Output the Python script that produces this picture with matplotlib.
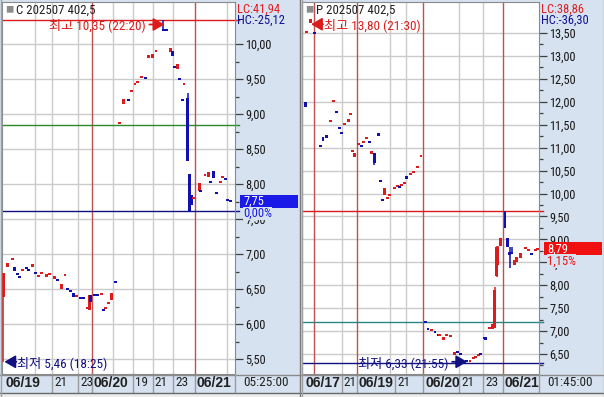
import numpy as np
import matplotlib
matplotlib.use("Agg")
import matplotlib.pyplot as plt
import matplotlib.transforms as mtransforms
from matplotlib.patches import Rectangle
from matplotlib.lines import Line2D
from matplotlib import font_manager
from matplotlib.ticker import FuncFormatter

# ---------------------------------------------------------------- data
# Left panel : call option C 202507 402.5  (t = bar slot on the time axis)
c_title = "C 202507 402,5"
c_t = [0.4, 1.7, 3.0, 3.6, 4.3, 5.0, 5.9, 6.9, 7.7, 8.7, 9.7, 10.4, 11.3, 12.7, 13.6, 14.9, 15.9, 17.1,
       18.0, 18.7, 19.6, 20.3, 21.3, 22.3, 23.3, 24.4, 24.9, 25.4, 26.4, 27.3, 28.4, 29.0, 29.6, 30.4,
       31.3, 32.4,
       33.7, 34.6, 36.1, 37.1, 38.0, 38.7, 39.9, 40.9, 41.9, 42.9, 44.0, 46.1, 47.0, 48.1, 48.7, 49.3,
       50.1, 50.7, 51.6, 52.0, 53.0, 53.6, 54.1, 54.7, 56.4, 56.7, 58.0, 59.0, 59.7, 60.4, 61.4, 62.3,
       63.1, 63.9, 64.4, 65.4]
c_open = [6.39, 6.81, 6.93, 6.81, 6.72, 6.68, 6.76, 6.81, 6.78, 6.81, 6.74, 6.68, 6.72, 6.67, 6.71, 6.64,
          6.63, 6.50, 6.70, 6.51, 6.47, 6.44, 6.39, 6.38, 6.37, 6.23, 6.20, 6.41, 6.42, 6.42, 6.43, 6.20,
          6.22, 6.30, 6.34, 6.60,
          8.86, 9.14, 9.20, 9.32, 9.43, 9.45, 9.52, 9.52, 9.80, 9.80, 9.90, 10.20, 10.20, 9.89, 9.90, 9.68,
          9.64, 9.50, 9.20, 9.43, 9.23, 8.14, 7.84, 7.80, 7.90, 7.90, 8.13, 8.10, 8.04, 8.19, 7.88, 8.01,
          8.09, 8.08, 7.78, 7.76]
c_high = [6.73, 6.87, 6.94, 6.81, 6.72, 6.68, 6.77, 6.81, 6.78, 6.86, 6.74, 6.70, 6.73, 6.71, 6.72, 6.69,
          6.63, 6.57, 6.71, 6.51, 6.47, 6.44, 6.40, 6.38, 6.37, 6.24, 6.41, 6.41, 6.42, 6.42, 6.44, 6.20,
          6.23, 6.31, 6.44, 6.60,
          8.87, 9.21, 9.20, 9.33, 9.44, 9.46, 9.53, 9.52, 9.84, 9.86, 9.91, 10.35, 10.20, 9.94, 9.90, 9.68,
          9.71, 9.50, 9.20, 9.44, 9.30, 8.14, 7.84, 7.81, 8.01, 7.90, 8.14, 8.17, 8.04, 8.19, 7.88, 8.04,
          8.10, 8.08, 7.78, 7.76]
c_low = [5.46, 6.81, 6.93, 6.76, 6.70, 6.67, 6.76, 6.79, 6.77, 6.81, 6.73, 6.68, 6.72, 6.67, 6.71, 6.64,
         6.62, 6.50, 6.70, 6.50, 6.46, 6.39, 6.39, 6.36, 6.36, 6.23, 6.20, 6.31, 6.41, 6.41, 6.43, 6.19,
         6.22, 6.30, 6.34, 6.59,
         8.86, 9.14, 9.19, 9.32, 9.43, 9.45, 9.52, 9.51, 9.80, 9.80, 9.90, 10.19, 10.19, 9.89, 9.83, 9.67,
         9.64, 9.49, 9.19, 9.43, 8.33, 7.60, 7.70, 7.80, 7.90, 7.89, 8.13, 8.10, 8.03, 8.09, 7.87, 8.01,
         8.09, 8.07, 7.77, 7.75]
c_close = [6.73, 6.87, 6.94, 6.76, 6.70, 6.67, 6.77, 6.79, 6.77, 6.86, 6.73, 6.70, 6.73, 6.71, 6.72, 6.69,
           6.62, 6.57, 6.71, 6.50, 6.46, 6.39, 6.40, 6.36, 6.36, 6.24, 6.41, 6.31, 6.41, 6.41, 6.44, 6.19,
           6.23, 6.31, 6.44, 6.59,
           8.87, 9.21, 9.19, 9.33, 9.44, 9.46, 9.53, 9.51, 9.84, 9.86, 9.91, 10.19, 10.19, 9.94, 9.83, 9.67,
           9.71, 9.49, 9.19, 9.44, 8.33, 7.60, 7.70, 7.81, 8.01, 7.89, 8.14, 8.17, 8.03, 8.09, 7.87, 8.04,
           8.10, 8.07, 7.77, 7.75]
c_levels = [10.35, 8.84, 7.61]
c_day_t = [25.7, 55.1]
c_hour_t = [9.4, 14.3, 21.7, 31.7, 37.4, 43.1, 48.9, 64.3]
c_lbl_t = [0, 14.3, 21.7, 25.7, 37.4, 43.1, 48.9, 55.1]
c_lbl = ["06/19", "21", "23", "06/20", "19", "21", "23", "06/21"]
c_lc, c_hc = "LC:41,94", "HC:-25,12"
c_change = "0,00%"
c_clock = "05:25:00"
c_hi_time, c_lo_time = "22:20", "18:25"

# Right panel : put option P 202507 402.5
p_title = "P 202507 402,5"
p_t = [0.9, 1.4, 2.3, 3.7, 5.3, 6.0, 7.0, 8.1, 9.0, 9.9, 10.7, 11.3, 12.1, 13.3, 13.9, 14.4, 15.0, 16.1,
       17.0, 17.6, 18.4, 19.3, 19.9, 20.7, 21.9, 22.4, 23.1, 23.7, 24.3, 25.1, 26.4, 27.3, 27.9, 28.4,
       29.3, 29.9, 30.9, 31.9, 32.9, 34.0,
       35.3, 36.0, 36.9, 38.0, 39.0, 39.4, 40.4, 41.3, 42.4, 43.7, 44.4, 45.4, 46.9, 48.0, 48.9, 49.6,
       50.4, 51.1, 52.0, 52.4, 53.7, 54.4, 55.1, 55.6, 56.0, 56.7, 58.0, 58.7, 59.3, 59.9, 60.7, 61.3,
       62.4, 63.9, 64.7, 65.7, 66.6, 67.4]
p_open = [12.00, 13.51, 13.72, 13.51, 11.05, 11.23, 11.28, 11.57, 12.01, 11.79, 11.44, 11.33, 11.51, 11.56,
          11.72, 10.92, 10.80, 11.07, 11.05, 11.11, 11.20, 11.13, 10.87, 10.88, 11.32, 10.28, 9.87, 9.97,
          9.89, 9.96, 10.11, 10.15, 10.16, 10.19, 10.23, 10.38, 10.41, 10.46, 10.57, 10.81,
          7.22, 7.05, 7.01, 6.99, 6.92, 6.92, 6.80, 6.90, 6.89, 6.48, 6.55, 6.52, 6.35, 6.34, 6.40, 6.42,
          6.47, 6.52, 6.86, 6.87, 7.06, 7.04, 7.06, 8.20, 8.45, 8.85, 9.60, 9.03, 8.72, 8.71, 8.44, 8.50,
          8.59, 8.80, 8.76, 8.70, 8.76, 8.78]
p_high = [12.00, 13.52, 13.80, 13.51, 11.05, 11.23, 11.28, 11.58, 12.02, 11.79, 11.44, 11.33, 11.52, 11.62,
          11.73, 10.93, 10.88, 11.08, 11.05, 11.12, 11.21, 11.13, 10.93, 10.88, 11.32, 10.28, 9.87, 10.12,
          9.90, 9.97, 10.12, 10.16, 10.16, 10.20, 10.24, 10.38, 10.42, 10.47, 10.58, 10.82,
          7.22, 7.05, 7.02, 6.99, 6.92, 6.93, 6.87, 6.91, 6.90, 6.54, 6.55, 6.52, 6.35, 6.35, 6.41, 6.43,
          6.48, 6.52, 6.86, 6.87, 7.07, 7.15, 7.96, 8.85, 8.85, 9.03, 9.61, 9.03, 8.83, 8.83, 8.55, 8.61,
          8.70, 8.81, 8.77, 8.70, 8.77, 8.79]
p_low = [11.89, 13.51, 13.72, 13.50, 11.04, 11.15, 11.21, 11.57, 12.01, 11.78, 11.43, 11.32, 11.51, 11.56,
         11.72, 10.92, 10.80, 11.07, 11.04, 11.11, 11.20, 11.12, 10.87, 10.62, 11.25, 10.27, 9.86, 9.97,
         9.89, 9.96, 10.11, 10.15, 10.12, 10.19, 10.23, 10.32, 10.41, 10.46, 10.57, 10.81,
         7.19, 7.04, 7.01, 6.98, 6.91, 6.92, 6.80, 6.90, 6.89, 6.48, 6.54, 6.48, 6.33, 6.34, 6.40, 6.42,
         6.47, 6.48, 6.85, 6.80, 7.06, 7.04, 7.06, 8.17, 8.45, 8.85, 9.24, 8.83, 8.38, 8.70, 8.44, 8.50,
         8.59, 8.80, 8.76, 8.65, 8.76, 8.78]
p_close = [11.89, 13.52, 13.80, 13.50, 11.04, 11.15, 11.21, 11.58, 12.02, 11.78, 11.43, 11.32, 11.52, 11.62,
           11.73, 10.93, 10.88, 11.08, 11.04, 11.12, 11.21, 11.12, 10.93, 10.66, 11.25, 10.27, 9.86, 10.12,
           9.90, 9.97, 10.12, 10.16, 10.12, 10.20, 10.24, 10.32, 10.42, 10.47, 10.58, 10.82,
           7.19, 7.04, 7.02, 6.98, 6.91, 6.93, 6.87, 6.91, 6.90, 6.54, 6.54, 6.48, 6.33, 6.35, 6.41, 6.43,
           6.48, 6.48, 6.85, 6.80, 7.07, 7.15, 7.89, 8.83, 8.83, 9.03, 9.24, 8.83, 8.65, 8.70, 8.55, 8.61,
           8.70, 8.81, 8.77, 8.65, 8.77, 8.79]
p_levels = [9.61, 7.20, 6.31]
p_day_t = [3.4, 15.7, 34.6, 57.4]
p_hour_t = [11.4, 25.1, 29.7, 44.9, 51.7]
p_lbl_t = [0, 11.4, 15.7, 26.6, 34.6, 44.9, 51.7, 57.4]
p_lbl = ["06/17", "21", "06/19", "21", "06/20", "21", "23", "06/21"]
p_lc, p_hc = "LC:38,86", "HC:-36,30"
p_change = "1,15%"
p_clock = "01:45:00"
p_hi_time, p_lo_time = "21:30", "21:55"

# ---------------------------------------------------------------- style
W, H, DPI = 604, 397, 100
BG = "#d6e2f0"
RED = "#dc1c1c"
BLUE = "#1010b0"
NAVY = "#101080"
GRID = "#cbcbcb"
DAYLINE = "#c05050"
FRAME = "#8a8a8a"

names = {f.name for f in font_manager.fontManager.ttflist}
def pick(cands, default):
    for n in cands:
        if n in names:
            return n
    return default
NARROW = pick(["Liberation Sans Narrow", "Roboto Condensed", "Liberation Sans"], "DejaVu Sans")
WIDE = pick(["Liberation Sans", "Arial"], "DejaVu Sans")
KR = pick(["Noto Sans CJK KR", "Noto Sans CJK JP", "Noto Sans CJK SC", "Noto Sans CJK TC"],
          "Noto Sans CJK KR")
FAM = [NARROW, KR, "DejaVu Sans"]
plt.rcParams["font.family"] = FAM
plt.rcParams["axes.unicode_minus"] = False

fig = plt.figure(figsize=(W / DPI, H / DPI), dpi=DPI)
fig.patch.set_facecolor(BG)


def fax(x0, y0, x1, y1):
    return fig.add_axes([x0 / W, 1 - y1 / H, (x1 - x0) / W, (y1 - y0) / H])


def shift(ax, t, v, dx, dy):
    x, y = ax.transData.transform((t, v))
    return ax.transData.inverted().transform((x + dx, y - dy))


def fig_line(x0, y0, x1, y1, color, lw=1.0):
    fig.add_artist(Line2D([x0 / W, x1 / W], [1 - y0 / H, 1 - y1 / H], transform=fig.transFigure,
                          color=color, lw=lw, zorder=10))


def panel(x0, x1, xmax, ylim, title, t, o, h, l, c, levels, lcols, day_t, hour_t, lbl_t, lbl,
          lc, hc, change, clock, box_col, hi_time, lo_time, hi_text_left, lo_text_left, hi_dy):
    t, o, h, l, c = map(np.asarray, (t, o, h, l, c))
    ax = fax(x0, 2, x1, 374)
    ax.set_facecolor("white")
    ax.set_xlim(0, xmax)
    ax.set_ylim(*ylim)
    ppu = (374 - 2) / (ylim[1] - ylim[0])
    for s in ax.spines.values():
        s.set_color(FRAME)
    ax.set_xticks([])

    # price scale on the right
    maj = np.arange(np.ceil(ylim[0] * 2) / 2, ylim[1], 0.5)
    maj = maj[(ylim[1] - maj) * ppu >= 25]
    mnr = np.arange(np.ceil(ylim[0] * 4) / 4, ylim[1], 0.25)
    mnr = mnr[(ylim[1] - mnr) * ppu >= 25]
    ax.yaxis.tick_right()
    ax.set_yticks(maj)
    ax.set_yticks(mnr, minor=True)
    ax.yaxis.set_major_formatter(FuncFormatter(lambda v, p: f"{v:.2f}".replace(".", ",")))
    ax.tick_params(axis="y", which="major", direction="out", length=6, width=0.9, color="#404040",
                   pad=1.5, labelsize=8.8, labelcolor="#151515")
    ax.tick_params(axis="y", which="minor", direction="out", length=3, width=0.9, color="#404040")
    ax.grid(axis="y", which="major", color=GRID, lw=1, zorder=0)
    ax.set_axisbelow(True)

    for tt in hour_t:
        ax.axvline(tt, color=GRID, lw=1, zorder=0.5)
    for tt in day_t:
        ax.axvline(tt, color=DAYLINE, lw=1, zorder=1.5)
    blend = mtransforms.blended_transform_factory(ax.transAxes, ax.transData)
    wpx = ax.bbox.width
    for v, col in zip(levels, lcols):
        ax.axhline(v, color=col, lw=1, zorder=2)
        ax.plot([1, 1 + 4 / wpx], [v, v], transform=blend, color=col, lw=1, clip_on=False, zorder=2)

    # candles
    up = c >= o
    col = np.where(up, RED, BLUE)
    mh = 2.0 / ppu
    lo_b = np.minimum(o, c)
    hgt = np.abs(c - o)
    small = hgt < mh
    lo_b = np.where(small, (o + c) / 2 - mh / 2, lo_b)
    hgt = np.where(small, mh, hgt)
    wick = (h > np.maximum(o, c)) | (l < np.minimum(o, c))
    ax.vlines(t[wick], l[wick], h[wick], colors=col[wick], lw=1.1, zorder=3)
    ax.bar(t, hgt, bottom=lo_b, width=0.85, color=col, lw=0, zorder=4)

    # time labels row
    tb = mtransforms.blended_transform_factory(ax.transData, ax.transAxes)
    row = 18 / ax.bbox.height
    for tt, lab in zip(lbl_t, lbl):
        bold = "/" in lab
        dx = 3 if tt == 0 else 2
        tr = tb + mtransforms.ScaledTranslation(dx / DPI, 0, fig.dpi_scale_trans)
        ax.text(tt, -row / 2, lab, transform=tr, ha="left", va="center", clip_on=False,
                fontsize=10 if bold else 9.5, fontweight="bold" if bold else "normal",
                family=[WIDE, KR] if bold else FAM, color="#202020")
        if tt > 0:
            ax.plot([tt, tt], [0, -row], transform=tb, color="#9a9a9a", lw=1, clip_on=False)

    # title
    tl = mtransforms.offset_copy(ax.transAxes, fig, x=3, y=-8, units="dots")
    ax.text(0, 1, "\u25a0", transform=tl, fontsize=6, color="#8c8c8c", va="center", ha="left",
            family=[KR, "DejaVu Sans"])
    tl2 = mtransforms.offset_copy(ax.transAxes, fig, x=14, y=-8, units="dots")
    ax.text(0, 1, title, transform=tl2, fontsize=9.3, color="#202020", va="center", ha="left")

    # LC / HC
    tr1 = mtransforms.offset_copy(ax.transAxes, fig, x=2, y=-7, units="dots")
    ax.text(1, 1, lc, transform=tr1, fontsize=9, color="#e02020", va="center", ha="left")
    tr2 = mtransforms.offset_copy(ax.transAxes, fig, x=2, y=-18, units="dots")
    ax.text(1, 1, hc, transform=tr2, fontsize=9, color="#101090", va="center", ha="left")

    # clock in scale row
    trc = mtransforms.offset_copy(ax.transAxes, fig, x=8, y=-9, units="dots")
    ax.text(1, 0, clock, transform=trc, fontsize=9.5, color="#202020", va="center", ha="left")

    # current price box
    last = c[-1]
    cx, cy = fig.transFigure.inverted().transform(ax.transData.transform((xmax, last)))
    x_r = ax.bbox.x1
    box = Rectangle(((x_r + 5) / W, cy - 6.5 / H), 58 / W, 13 / H, transform=fig.transFigure,
                    facecolor=box_col, edgecolor="none", zorder=8)
    fig.add_artist(box)
    fig.text((x_r + 8) / W, cy, f"{last:.2f}".replace(".", ","), color="white", fontsize=9,
             va="center", ha="left", zorder=9)
    fig.text((x_r + 8) / W, cy - 12 / H, change, color=box_col, fontsize=9, va="center",
             ha="left", zorder=9,
             bbox=dict(facecolor=BG, edgecolor="none", pad=0.3))

    # high / low markers
    i = int(np.argmax(h))
    j = int(np.argmin(l))
    for k, val, tm, color, text_left, ddy, kind in (
            (i, h[i], hi_time, RED, hi_text_left, hi_dy, "최고"),
            (j, l[j], lo_time, NAVY, lo_text_left, 0, "최저")):
        label = f"{kind} {val:.2f}".replace(".", ",") + f" ({tm})"
        if text_left:
            tip = shift(ax, t[k], val, 1, ddy)
            tail = shift(ax, t[k], val, -14, ddy)
            tpos = shift(ax, t[k], val, -18, ddy + 1)
            ha = "right"
        else:
            tip = shift(ax, t[k], val, 1, ddy)
            tail = shift(ax, t[k], val, 13, ddy)
            tpos = shift(ax, t[k], val, 14, ddy + 1)
            ha = "left"
        ax.annotate("", xy=tip, xytext=tail, annotation_clip=False, zorder=6,
                    arrowprops=dict(arrowstyle="-|>,head_length=0.55,head_width=0.32", color=color,
                                    lw=1.3, shrinkA=0, shrinkB=0, mutation_scale=12))
        ax.text(tpos[0], tpos[1], label, color=color, fontsize=9.5, ha=ha, va="center", zorder=6)
    return ax


axL = panel(2, 235, 233 / 3.5, (5.286, 10.6), c_title, c_t, c_open, c_high, c_low, c_close,
            c_levels, [RED, "#2a8a2a", NAVY], c_day_t, c_hour_t, c_lbl_t, c_lbl,
            c_lc, c_hc, c_change, c_clock, "#1a1ae8", c_hi_time, c_lo_time, True, False, 5)
axR = panel(302, 539, 237 / 3.5, (6.064, 14.176), p_title, p_t, p_open, p_high, p_low, p_close,
            p_levels, [RED, "#2a8585", NAVY], p_day_t, p_hour_t, p_lbl_t, p_lbl,
            p_lc, p_hc, p_change, p_clock, "#f01010", p_hi_time, p_lo_time, False, True, 5)

# frame lines of the screen
fig_line(0, 374.5, 604, 374.5, "#8a8a8a")
fig_line(0, 392.5, 604, 392.5, "#6a6a6a")
fig_line(235, 374, 235, 392, "#9a9a9a")
fig_line(539, 374, 539, 392, "#9a9a9a")
fig_line(299.5, 0, 299.5, 397, "#7a7a7a")
fig_line(302, 0, 302, 397, "#a0a0a0")
fig_line(0.5, 0, 0.5, 397, "#a0a0a0")
fig_line(603.5, 0, 603.5, 397, "#a0a0a0")
fig.add_artist(Rectangle((0, 0), 1, 4.5 / H, transform=fig.transFigure, facecolor="#ededed",
                         edgecolor="none", zorder=9))

fig.savefig("out.png", dpi=DPI, facecolor=fig.get_facecolor())
